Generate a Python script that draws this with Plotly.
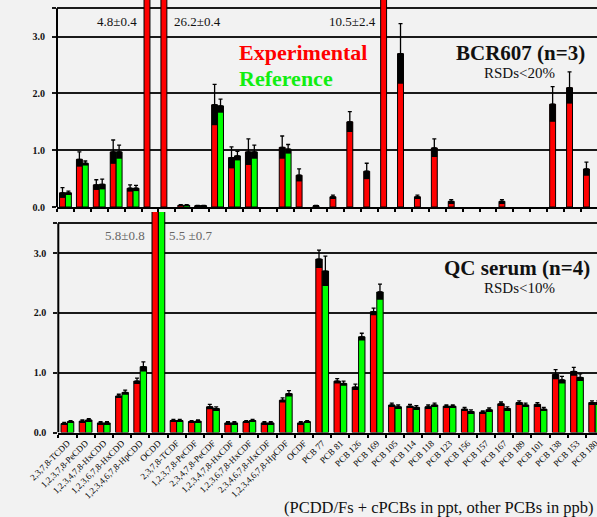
import plotly.graph_objects as go

# ---------------- data ----------------
top_categories = [
    "2,3,7,8-TCDD", "1,2,3,7,8-PeCDD", "1,2,3,4,7,8-HxCDD", "1,2,3,6,7,8-HxCDD",
    "1,2,3,7,8,9-HxCDD", "1,2,3,4,6,7,8-HpCDD", "OCDD", "2,3,7,8-TCDF",
    "1,2,3,7,8-PeCDF", "2,3,4,7,8-PeCDF", "1,2,3,4,7,8-HxCDF", "1,2,3,6,7,8-HxCDF",
    "1,2,3,7,8,9-HxCDF", "2,3,4,6,7,8-HxCDF", "1,2,3,4,6,7,8-HpCDF", "1,2,3,4,7,8,9-HpCDF",
    "OCDF", "PCB 77", "PCB 81", "PCB 126", "PCB 169", "PCB 105", "PCB 114", "PCB 118",
    "PCB 123", "PCB 156", "PCB 157", "PCB 167", "PCB 189", "PCB 28", "PCB 52", "PCB 101",
]
top_exp = [0.25, 0.84, 0.39, 0.97, 0.33, 4.8, 26.2, 0.03, 0.02, 1.80, 0.87, 0.97, None, 1.05,
           0.56, 0.02, 0.18, 1.50, 0.63, 10.5, 2.70, 0.18, 1.04, 0.10, None, None, 0.10, None,
           None, 1.81, 2.10, 0.67]
top_exp_err = [0.09, 0.13, 0.09, 0.21, 0.06, 0.4, 0.4, 0.01, 0.01, 0.36, 0.19, 0.23, None, 0.20,
               0.11, 0.01, 0.03, 0.18, 0.14, 2.4, 0.53, 0.03, 0.16, 0.03, None, None, 0.03, None,
               None, 0.31, 0.28, 0.12]
top_ref = [0.25, 0.77, 0.40, 0.97, 0.33, None, None, 0.03, 0.02, 1.78, 0.90, 0.97, None, 1.02,
           None, None, None, None, None, None, None, None, None, None, None, None, None, None,
           None, None, None, None]
top_ref_err = [0.03, 0.04, 0.09, 0.12, 0.05, None, None, 0.01, 0.01, 0.12, 0.08, 0.12, None, 0.08,
               None, None, None, None, None, None, None, None, None, None, None, None, None, None,
               None, None, None, None]

bottom_categories = [
    "2,3,7,8-TCDD", "1,2,3,7,8-PeCDD", "1,2,3,4,7,8-HxCDD", "1,2,3,6,7,8-HxCDD",
    "1,2,3,4,6,7,8-HpCDD", "OCDD", "2,3,7,8-TCDF", "1,2,3,7,8-PeCDF", "2,3,4,7,8-PeCDF",
    "1,2,3,4,7,8-HxCDF", "1,2,3,6,7,8-HxCDF", "2,3,4,6,7,8-HxCDF", "1,2,3,4,6,7,8-HpCDF",
    "OCDF", "PCB 77", "PCB 81", "PCB 126", "PCB 169", "PCB 105", "PCB 114", "PCB 118",
    "PCB 123", "PCB 156", "PCB 157", "PCB 167", "PCB 189", "PCB 101", "PCB 138",
    "PCB 153", "PCB 180",
]
bottom_exp = [0.15, 0.19, 0.16, 0.61, 0.86, 5.8, 0.20, 0.18, 0.43, 0.16, 0.18, 0.16, 0.54, 0.16,
              2.90, 0.86, 0.76, 2.02, 0.46, 0.44, 0.43, 0.44, 0.39, 0.34, 0.48, 0.50, 0.47,
              0.97, 1.02, 0.50]
bottom_exp_err = [0.02, 0.02, 0.02, 0.03, 0.05, 0.8, 0.02, 0.02, 0.04, 0.02, 0.02, 0.02, 0.04,
                  0.02, 0.15, 0.04, 0.05, 0.06, 0.03, 0.03, 0.03, 0.02, 0.03, 0.02, 0.03, 0.03,
                  0.03, 0.08, 0.07, 0.03]
bottom_ref = [0.18, 0.21, 0.16, 0.67, 1.10, 5.5, 0.20, 0.19, 0.40, 0.16, 0.20, 0.16, 0.65, 0.18,
              2.70, 0.82, 1.60, 2.35, 0.43, 0.42, 0.46, 0.44, 0.35, 0.38, 0.40, 0.46, 0.39,
              0.88, 0.92, 0.50]
bottom_ref_err = [0.02, 0.02, 0.02, 0.04, 0.08, 0.7, 0.02, 0.02, 0.03, 0.02, 0.02, 0.02, 0.05,
                  0.02, 0.25, 0.04, 0.06, 0.13, 0.03, 0.03, 0.03, 0.02, 0.03, 0.03, 0.03, 0.03,
                  0.03, 0.06, 0.06, 0.03]

y_tick_values = [0, 1, 2, 3, 3.5]
y_tick_labels = ["0.0", "1.0", "2.0", "3.0", ""]

# ---------------- style ----------------
RED = "#ff0000"
GREEN = "#00ff00"
BG = "#f2f2f2"
SERIF = "Liberation Serif"
W = 0.35


def add_series(fig, cats, vals, errs, color, offset, xa, ya):
    fig.add_trace(go.Bar(
        x=cats, y=vals, marker=dict(color=color, line=dict(color="black", width=1)),
        offset=offset, width=W, xaxis=xa, yaxis=ya, hoverinfo="skip",
        error_y=dict(type="data", symmetric=False, array=errs,
                     arrayminus=[0 if e is not None else None for e in errs],
                     color="black", thickness=1.3, width=2),
    ))
    base = [(v - e) if (v is not None and e is not None) else None for v, e in zip(vals, errs)]
    fig.add_trace(go.Bar(
        x=cats, y=errs, base=base, marker=dict(color="black", line=dict(width=0)),
        offset=offset, width=W, xaxis=xa, yaxis=ya, hoverinfo="skip",
    ))


fig = go.Figure()
add_series(fig, top_categories, top_exp, top_exp_err, RED, -W, "x", "y")
add_series(fig, top_categories, top_ref, top_ref_err, GREEN, 0, "x", "y")
add_series(fig, bottom_categories, bottom_exp, bottom_exp_err, RED, -W, "x2", "y2")
add_series(fig, bottom_categories, bottom_ref, bottom_ref_err, GREEN, 0, "x2", "y2")

H = 517.0
WID = 597.0

xcommon = dict(type="category", showgrid=False, zeroline=False, showline=True,
               linecolor="black", linewidth=2, ticks="outside", tickson="boundaries",
               ticklen=3, tickwidth=1.5, tickcolor="black", fixedrange=True,
               automargin=False)
ycommon = dict(tickvals=y_tick_values, ticktext=y_tick_labels, showgrid=True,
               gridcolor="#1a1a1a", gridwidth=2, zeroline=False, showline=False,
               ticks="outside", ticklen=4, tickwidth=2, tickcolor="#1a1a1a",
               ticklabelstandoff=5,
               tickfont=dict(family=SERIF, size=10, color="#111", weight="bold"),
               fixedrange=True, automargin=False)

fig.update_layout(
    width=597, height=517,
    margin=dict(l=0, r=0, t=0, b=0, autoexpand=False),
    paper_bgcolor=BG, plot_bgcolor=BG,
    barmode="overlay", showlegend=False,
    xaxis=dict(xcommon, domain=[57 / WID, 1], anchor="y",
               categoryorder="array", categoryarray=top_categories,
               range=[-0.5, 31.45], showticklabels=False),
    yaxis=dict(ycommon, domain=[(H - 207) / H, 1], anchor="x", range=[0, 207 / 56.8]),
    xaxis2=dict(xcommon, domain=[58.3 / WID, 1], anchor="y2",
                categoryorder="array", categoryarray=bottom_categories,
                range=[-0.5, 29.1], tickangle=-45,
                tickfont=dict(family=SERIF, size=9, color="black")),
    yaxis2=dict(ycommon, domain=[(H - 432.5) / H, (H - 212) / H], anchor="x2",
                range=[0, (432.5 - 212) / 59.8]),
)

# left axis lines (only up to the 3.5 line)
for xr, yr in (("x domain", "y"), ("x2 domain", "y2")):
    fig.add_shape(type="line", xref=xr, yref=yr, x0=0, x1=0, y0=0, y1=3.5,
                  line=dict(color="black", width=2))


def px(x):
    return x / WID


def py(y):
    return (H - y) / H


def ann(text, x, y, anchor="center", size=13, color="#111", bold=False):
    fig.add_annotation(text=text, xref="paper", yref="paper", x=px(x), y=py(y),
                       xanchor=anchor, yanchor="middle", showarrow=False,
                       font=dict(family=SERIF, size=size, color=color,
                                 weight="bold" if bold else "normal"))


ann("4.8±0.4", 139, 21, "right")
ann("26.2±0.4", 172, 21, "left")
ann("10.5±2.4", 378, 22, "right")
ann("Experimental", 237, 53, "left", 22, RED, True)
ann("Reference", 237, 78, "left", 22, "#11ee11", True)
ann("BCR607 (n=3)", 520, 53, "center", 21, "#111", True)
ann("RSDs&lt;20%", 519, 73, "center", 15)
ann("5.8±0.8", 147, 235, "right", 13, "#666")
ann("5.5 ±0.7", 167, 235, "left", 13, "#666")
ann("QC serum (n=4)", 517, 268, "center", 21, "#111", True)
ann("RSDs&lt;10%", 519, 288, "center", 15)
ann("(PCDD/Fs + cPCBs in ppt, other PCBs in ppb)", 596, 507, "right", 16.5)

fig.write_html(
    "out.html",
    config={"displayModeBar": False},
    post_script="document.body.style.margin='0';document.body.style.background='#f2f2f2';",
)
